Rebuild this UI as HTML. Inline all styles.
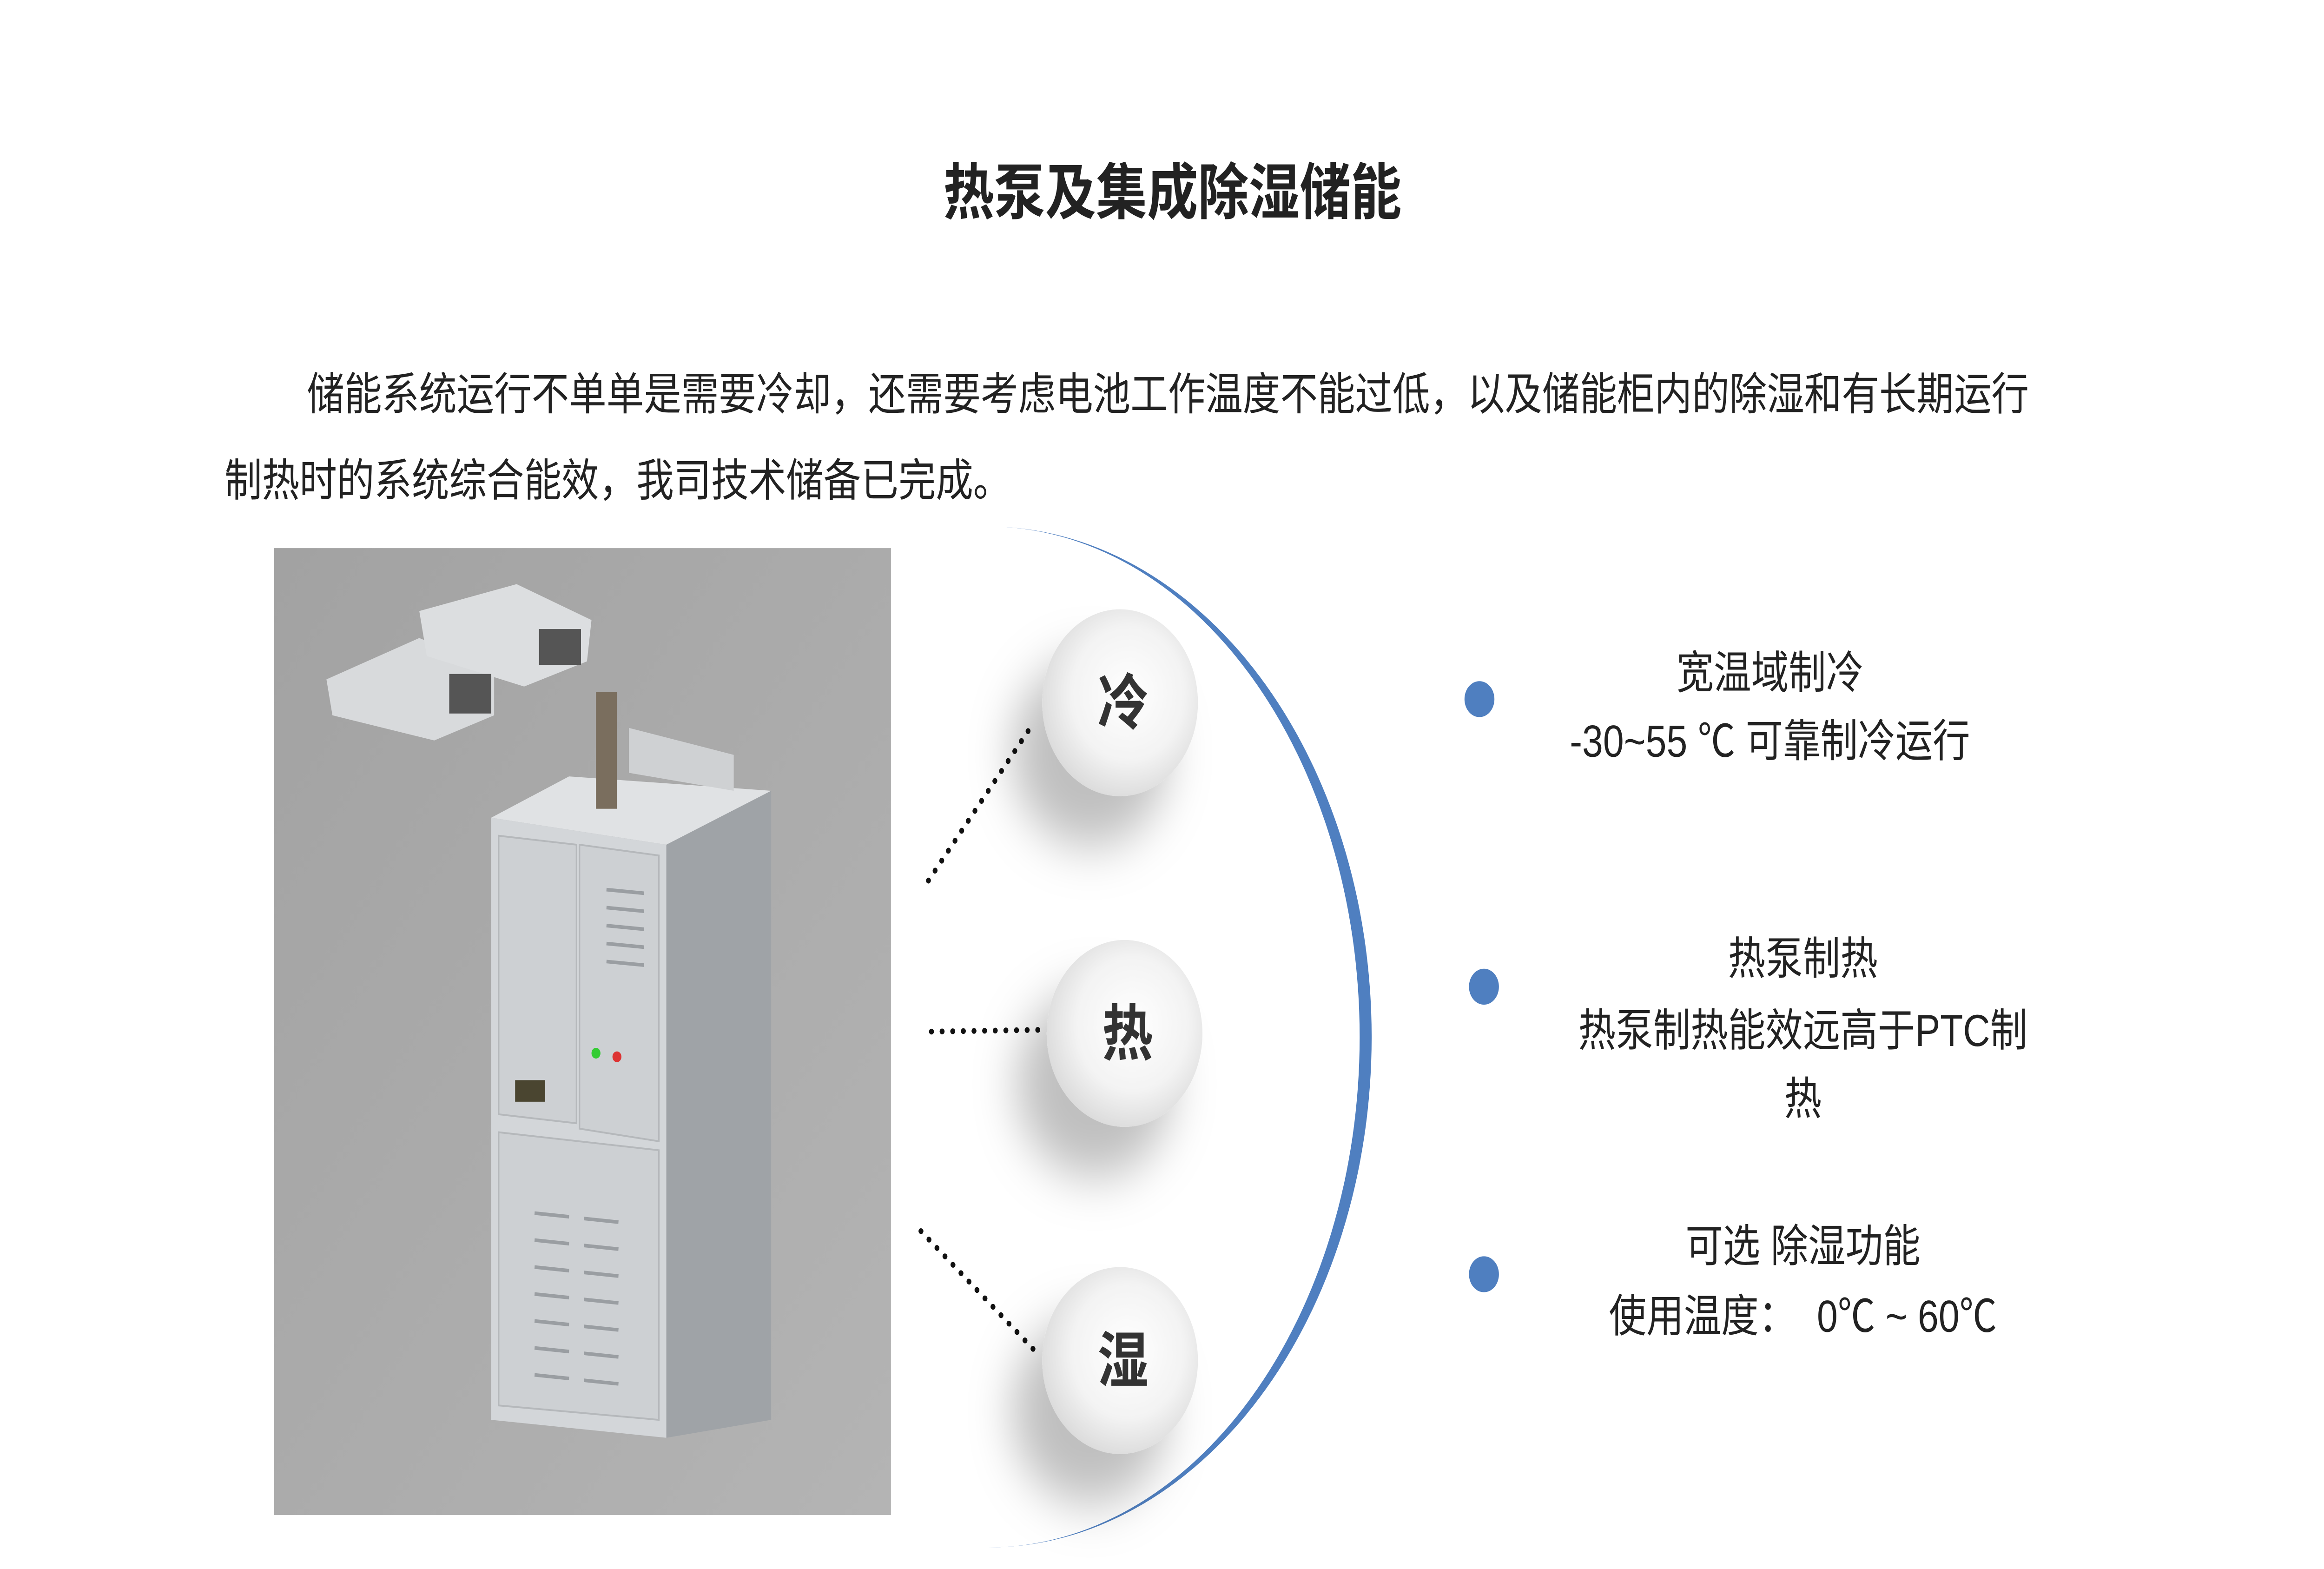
<!DOCTYPE html>
<html><head><meta charset="utf-8"><style>
html,body{margin:0;padding:0;background:#fff;width:100%;height:100%;overflow:hidden;}
svg{display:block;width:100vw;height:100vh;}
text{font-family:"Liberation Sans","Noto Sans CJK SC",sans-serif;fill:#222;}
</style></head><body>
<svg viewBox="0 0 1552 873" preserveAspectRatio="none" xmlns="http://www.w3.org/2000/svg">
<defs>
<linearGradient id="bg" x1="0" y1="0" x2="1" y2="1"><stop offset="0" stop-color="#a2a2a2"/><stop offset="1" stop-color="#b4b4b4"/></linearGradient>
<radialGradient id="cg" cx="0.55" cy="0.45" r="0.6"><stop offset="0" stop-color="#fff"/><stop offset="0.6" stop-color="#f3f3f3"/><stop offset="1" stop-color="#d8d8d8"/></radialGradient>
<filter id="sh" x="-80%" y="-50%" width="220%" height="220%"><feDropShadow dx="-20" dy="28" stdDeviation="14" flood-color="#000" flood-opacity="0.25"/></filter>
</defs>
<rect width="1552" height="873" fill="#fff"/>
<text x="783" y="119" font-size="34" font-weight="bold" text-anchor="middle">热泵及集成除湿储能</text>
<text x="205" y="228" font-size="25">储能系统运行不单单是需要冷却，还需要考虑电池工作温度不能过低，以及储能柜内的除湿和有长期运行</text>
<text x="150" y="276" font-size="25">制热时的系统综合能效，我司技术储备已完成。</text>
<rect x="183" y="305" width="412" height="538" fill="url(#bg)"/>
<polygon points="218,378 280,355 330,372 330,398 290,412 222,398" fill="#d8dadc"/>
<polygon points="280,340 345,325 395,345 392,368 350,382 285,365" fill="#dcdee0"/>
<rect x="300" y="375" width="28" height="22" fill="#555"/><rect x="360" y="350" width="28" height="20" fill="#555"/>
<polygon points="328,455 380,432 515,440 445,470" fill="#e0e2e4"/>
<rect x="398" y="385" width="14" height="65" fill="#7a6e5e"/>
<polygon points="420,405 490,420 490,440 420,430" fill="#cfd1d3"/>
<polygon points="328,455 445,470 445,800 328,790" fill="#d3d6d9"/>
<polygon points="445,470 515,440 515,790 445,800" fill="#9fa3a7"/>
<polygon points="333,465 385,470 385,625 333,620" fill="#cdd0d3" stroke="#b5b8bb"/>
<polygon points="387,470 440,476 440,635 387,628" fill="#cdd0d3" stroke="#b5b8bb"/>
<polygon points="333,630 440,640 440,790 333,782" fill="#cdd0d3" stroke="#b5b8bb"/>
<g stroke="#9a9ea2" stroke-width="2">
<line x1="405" y1="495" x2="430" y2="497"/><line x1="405" y1="505" x2="430" y2="507"/><line x1="405" y1="515" x2="430" y2="517"/><line x1="405" y1="525" x2="430" y2="527"/><line x1="405" y1="535" x2="430" y2="537"/>
<line x1="357" y1="675" x2="380" y2="677"/><line x1="357" y1="690" x2="380" y2="692"/><line x1="357" y1="705" x2="380" y2="707"/><line x1="357" y1="720" x2="380" y2="722"/><line x1="357" y1="735" x2="380" y2="737"/><line x1="357" y1="750" x2="380" y2="752"/><line x1="357" y1="765" x2="380" y2="767"/>
<line x1="390" y1="678" x2="413" y2="680"/><line x1="390" y1="693" x2="413" y2="695"/><line x1="390" y1="708" x2="413" y2="710"/><line x1="390" y1="723" x2="413" y2="725"/><line x1="390" y1="738" x2="413" y2="740"/><line x1="390" y1="753" x2="413" y2="755"/><line x1="390" y1="768" x2="413" y2="770"/>
</g>
<rect x="344" y="601" width="20" height="12" fill="#4a4530"/>
<circle cx="398" cy="586" r="3" fill="#3c3"/><circle cx="412" cy="588" r="3" fill="#d33"/>
<path d="M660,293 A256,284 0 0 1 660,861 A248,284 0 0 0 660,293 Z" fill="#4f7fc0"/>
<g stroke="#111" stroke-width="3.2" stroke-dasharray="0.1 7" stroke-linecap="round" fill="none">
<line x1="620" y1="490" x2="688" y2="405"/>
<line x1="622" y1="574" x2="695" y2="573"/>
<line x1="615" y1="685" x2="695" y2="755"/>
</g>
<g filter="url(#sh)">
<circle cx="748" cy="391" r="52" fill="url(#cg)"/>
<circle cx="751" cy="575" r="52" fill="url(#cg)"/>
<circle cx="748" cy="757" r="52" fill="url(#cg)"/>
</g>
<g font-size="34" font-weight="bold" text-anchor="middle">
<text x="750" y="403" style="fill:#333">冷</text>
<text x="753" y="587" style="fill:#333">热</text>
<text x="750" y="769" style="fill:#333">湿</text>
</g>
<circle cx="988" cy="389" r="10" fill="#4f7fc0"/>
<circle cx="991" cy="549" r="10" fill="#4f7fc0"/>
<circle cx="991" cy="709" r="10" fill="#4f7fc0"/>
<g font-size="25" text-anchor="middle">
<text x="1182" y="383">宽温域制冷</text>
<text x="1182" y="421">-30~55 ℃ 可靠制冷运行</text>
<text x="1204" y="542">热泵制热</text>
<text x="1204" y="582">热泵制热能效远高于PTC制</text>
<text x="1204" y="620">热</text>
<text x="1204" y="702">可选 除湿功能</text>
<text x="1204" y="741" xml:space="preserve">使用温度：  0℃ ~ 60℃</text>
</g>
</svg>
</body></html>
